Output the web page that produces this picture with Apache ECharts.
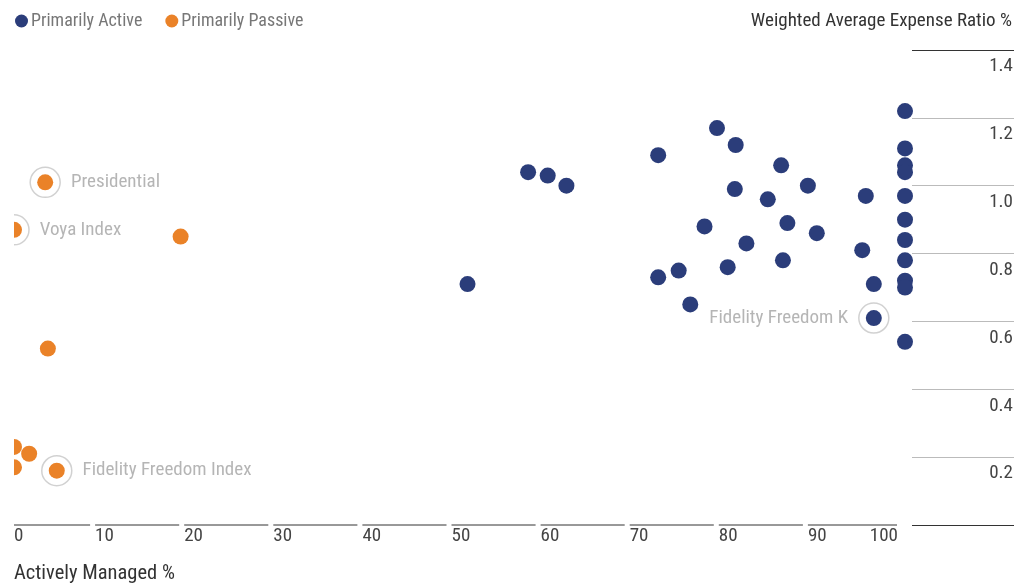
<!DOCTYPE html>
<html>
<head>
<meta charset="utf-8">
<script src="https://cdn.jsdelivr.net/npm/echarts@6/dist/echarts.min.js"></script>
<style>
  html, body { margin: 0; padding: 0; background: #fff; overflow: hidden; }
  #wrap { position: absolute; left: 0; top: 0; width: 1029px; height: 587px; overflow: hidden; }
  #chart { position: absolute; left: 14px; top: 0; width: 1015px; height: 587px; }
</style>
</head>
<body>
<div id="wrap"><div id="chart"></div></div>
<script>
// ---- data ----
const activeX = [50.9, 57.7, 59.9, 62.0, 72.3, 72.3, 74.6, 75.9, 77.5, 78.9, 80.1, 81.0, 80.9, 82.2, 84.6, 86.1, 86.3, 86.8, 89.1, 90.1, 95.6, 95.2, 96.5, 96.5,
                 100, 100, 100, 100, 100, 100, 100, 100, 100, 100, 100];
const activeY = [0.71, 1.04, 1.03, 1.00, 1.09, 0.73, 0.75, 0.65, 0.88, 1.17, 0.76, 1.12, 0.99, 0.83, 0.96, 1.06, 0.78, 0.89, 1.00, 0.86, 0.97, 0.81, 0.71, 0.61,
                 1.22, 1.11, 1.06, 1.04, 0.97, 0.90, 0.84, 0.78, 0.72, 0.70, 0.54];
const passiveX = [3.5, 0, 18.7, 3.8, 0, 1.7, 0, 4.8];
const passiveY = [1.01, 0.87, 0.85, 0.52, 0.23, 0.21, 0.17, 0.16];
// annotated funds: name, series ('active'/'passive'), index in that series, label side
const annotNames = ['Presidential', 'Voya Index', 'Fidelity Freedom Index', 'Fidelity Freedom K'];
const annotSeries = ['passive', 'passive', 'passive', 'active'];
const annotIndex = [0, 1, 7, 23];
const annotSide = ['right', 'right', 'right', 'left'];
const xTicks = [0, 10, 20, 30, 40, 50, 60, 70, 80, 90, 100];
const xTickLabels = ['0', '10', '20', '30', '40', '50', '60', '70', '80', '90', '100'];
const yTicks = [0, 0.2, 0.4, 0.6, 0.8, 1.0, 1.2, 1.4];

const FONT = "'Liberation Sans Narrow', 'Roboto Condensed', 'DejaVu Sans Condensed', sans-serif";
const NAVY = '#2b3d7a';
const ORANGE = '#ea8228';

const activeData = activeX.map((x, i) => [x, activeY[i]]);
const passiveData = passiveX.map((x, i) => [x, passiveY[i]]);
const annotData = annotNames.map((n, i) => {
  const src = annotSeries[i] === 'active' ? activeData : passiveData;
  const p = src[annotIndex[i]];
  return {
    name: n, value: [p[0], p[1]],
    label: { position: annotSide[i] }
  };
});

const chart = echarts.init(document.getElementById('chart'), null, { renderer: 'canvas' });
const GAP = 5, SHIFT = 8;

chart.setOption({
  animation: false,
  textStyle: { fontFamily: FONT },
  title: [
    { text: 'Weighted Average Expense Ratio %', right: 17, top: 12, padding: 0,
      textStyle: { fontFamily: FONT, fontSize: 19, fontWeight: 'normal', color: '#333' } },
    { text: 'Actively Managed %', left: 0, top: 563, padding: 0,
      textStyle: { fontFamily: FONT, fontSize: 20.5, fontWeight: 'normal', color: '#333' } }
  ],
  legend: {
    left: 1, top: 12, padding: 0, icon: 'circle', itemWidth: 13, itemHeight: 13, itemGap: 23,
    data: ['Primarily Active', 'Primarily Passive'],
    textStyle: { fontFamily: FONT, fontSize: 18, color: '#777', padding: [0, 0, 0, -2] }
  },
  grid: [
    { left: 0, right: 124, top: 50, bottom: 62 },
    { left: 898, right: 15, top: 50, bottom: 62 }
  ],
  xAxis: [
    { gridIndex: 0, type: 'value', min: 0, max: 100, show: false },
    { gridIndex: 1, type: 'value', min: 0, max: 1, show: false }
  ],
  yAxis: [
    { gridIndex: 0, type: 'value', min: 0, max: 1.4, show: false },
    { gridIndex: 1, type: 'value', min: 0, max: 1.4, interval: 0.2, position: 'right',
      axisLine: { show: false }, axisTick: { show: false },
      splitLine: { show: true, lineStyle: { width: 1,
        color: ['#333', '#bbb', '#bbb', '#bbb', '#bbb', '#bbb', '#bbb', '#333'] } },
      axisLabel: { inside: true, margin: 1, verticalAlign: 'top', padding: [7, 0, 0, 0],
        fontFamily: FONT, fontSize: 19, color: '#444', showMinLabel: false,
        formatter: v => v.toFixed(1) } }
  ],
  series: [
    {
      type: 'custom', xAxisIndex: 0, yAxisIndex: 0, clip: false, silent: true,
      data: xTicks.map((v, i) => [v, i]),
      renderItem: function (params, api) {
        const v = api.value(0), i = api.value(1);
        const p = api.coord([v, 0]);
        const left0 = api.coord([0, 0])[0];
        let x1 = Math.max(p[0] - SHIFT, left0);
        const children = [];
        if (i < xTicks.length - 1) {
          const nextV = xTicks[i + 1];
          const x2 = api.coord([nextV, 0])[0] - SHIFT - (i + 1 === xTicks.length - 1 ? 0 : GAP);
          children.push({ type: 'line', shape: { x1: x1, y1: p[1], x2: x2, y2: p[1] },
            style: { stroke: '#333', lineWidth: 1 } });
        }
        const last = i === xTicks.length - 1;
        children.push({ type: 'text', x: last ? p[0] - SHIFT + 1 : x1, y: p[1] + 2,
          style: { text: xTickLabels[i], fill: '#444', font: '19px ' + FONT,
            textAlign: last ? 'right' : 'left', textVerticalAlign: 'top' } });
        return { type: 'group', children: children };
      },
      z: 1
    },
    {
      name: 'annot', type: 'scatter', xAxisIndex: 0, yAxisIndex: 0, clip: false,
      symbol: 'circle', symbolSize: 30, silent: true,
      itemStyle: { color: 'rgba(0,0,0,0)', borderColor: '#c6c6c6', borderWidth: 1.5 },
      label: { show: true, formatter: '{b}', distance: 10, fontFamily: FONT, fontSize: 19, color: '#a3a3a3' },
      data: annotData, z: 2
    },
    {
      name: 'Primarily Active', type: 'scatter', xAxisIndex: 0, yAxisIndex: 0, clip: false,
      symbol: 'circle', symbolSize: 16, itemStyle: { color: NAVY, opacity: 1 },
      data: activeData, z: 3
    },
    {
      name: 'Primarily Passive', type: 'scatter', xAxisIndex: 0, yAxisIndex: 0, clip: false,
      symbol: 'circle', symbolSize: 16, itemStyle: { color: ORANGE, opacity: 1 },
      data: passiveData, z: 3
    }
  ]
});
</script>
</body>
</html>
